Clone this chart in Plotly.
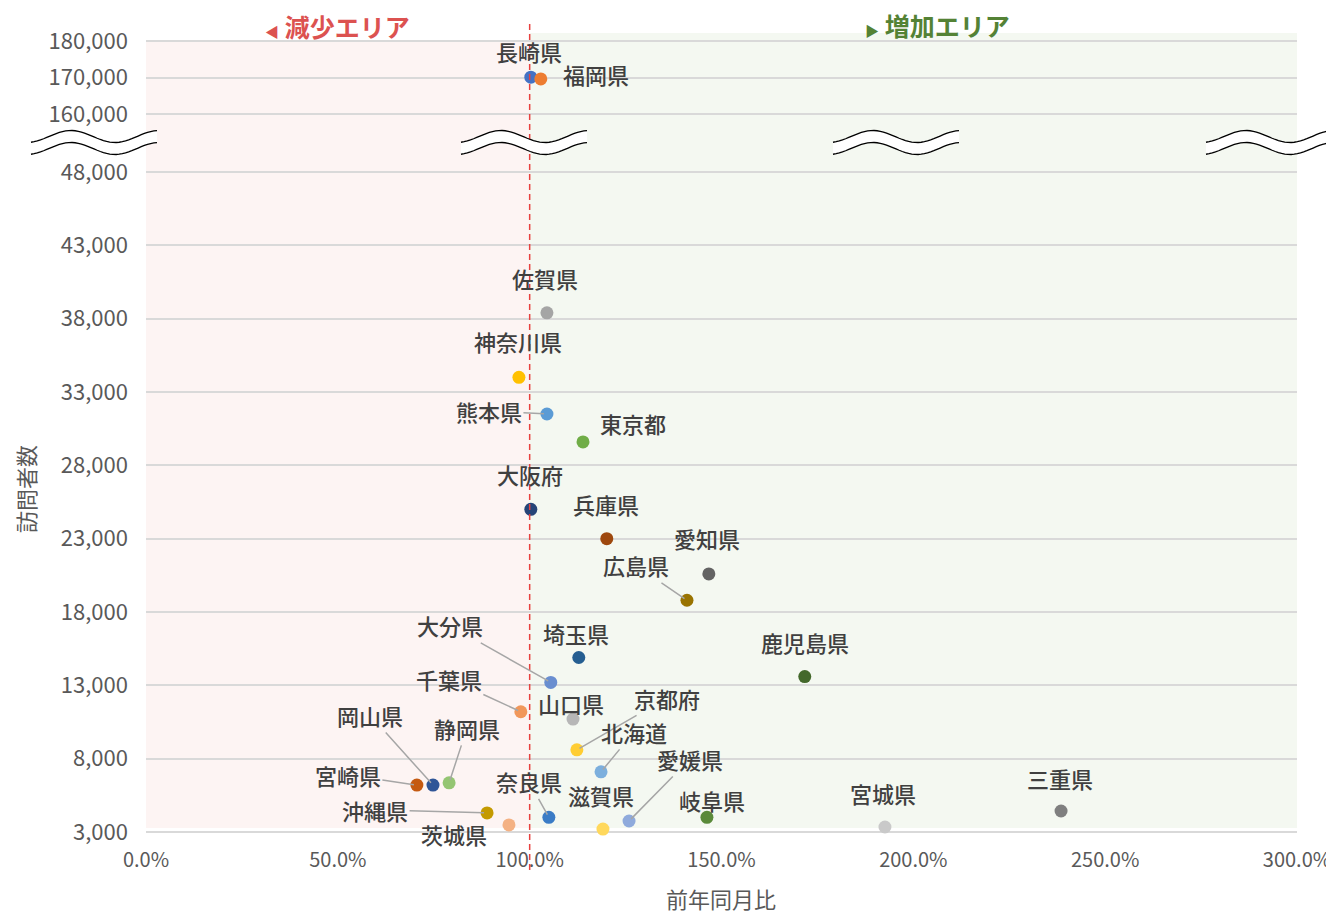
import math
import plotly.graph_objects as go

prefs = ['長崎県', '福岡県', '佐賀県', '神奈川県', '熊本県', '東京都', '大阪府', '兵庫県', '愛知県', '広島県',
         '埼玉県', '鹿児島県', '大分県', '千葉県', '山口県', '京都府', '北海道', '愛媛県', '滋賀県', '岐阜県',
         '奈良県', '茨城県', '沖縄県', '宮崎県', '岡山県', '静岡県', '宮城県', '三重県']
yoy_ratio = [1.003, 1.029, 1.045, 0.972, 1.045, 1.139, 1.003, 1.201, 1.467, 1.410,
             1.128, 1.717, 1.055, 0.977, 1.113, 1.123, 1.186, 1.259, 1.191, 1.462,
             1.050, 0.946, 0.889, 0.706, 0.748, 0.790, 1.926, 2.385]
visitors = [170100, 169600, 38400, 34000, 31500, 29600, 25000, 23000, 20600, 18800,
            14900, 13600, 13200, 11200, 10700, 8600, 7100, 3750, 3200, 4000,
            4000, 3480, 4300, 6200, 6200, 6350, 3340, 4430]
colors = ['#4472C4', '#ED7D31', '#A5A5A5', '#FFC000', '#5B9BD5', '#70AD47', '#264478', '#9E480E', '#636363', '#997300',
          '#255E91', '#43682B', '#698ED0', '#F1975A', '#B7B7B7', '#FFCD33', '#7CAFDD', '#8FAADC', '#FFD85C', '#5A8A3A',
          '#3A7CC6', '#F4B183', '#C49A00', '#C55A11', '#2F5597', '#94C572', '#C9C9C9', '#7F7F7F']

x_ticks = [0, 0.5, 1.0, 1.5, 2.0, 2.5, 3.0]
y_ticks_low = [3000, 8000, 13000, 18000, 23000, 28000, 33000, 38000, 43000, 48000]
y_ticks_high = [160000, 170000, 180000]

# label offsets in px (dx, dy downwards, leader line)
label_pos = {
    '長崎県': (-2, -26, False), '福岡県': (55, -5, False), '佐賀県': (-2, -35, False),
    '神奈川県': (-1, -36, False), '熊本県': (-58, -3, True), '東京都': (50, -19, False),
    '大阪府': (-1, -35, False), '兵庫県': (-1, -35, False), '愛知県': (-2, -36, False),
    '広島県': (-51, -35, True), '埼玉県': (-3, -24, False), '鹿児島県': (0, -35, False),
    '大分県': (-101, -57, True), '千葉県': (-72, -33, True), '山口県': (-2, -16, False),
    '京都府': (90, -52, True), '北海道': (33, -40, True), '愛媛県': (61, -62, True),
    '滋賀県': (-2, -34, False), '岐阜県': (5, -17, False), '奈良県': (-20, -36, True),
    '茨城県': (-55, 9, False), '沖縄県': (-112, -3, True), '宮崎県': (-69, -10, True),
    '岡山県': (-63, -70, True), '静岡県': (18, -55, True), '宮城県': (-2, -34, False),
    '三重県': (-1, -33, False),
}

# page body has an 8px margin, so the figure is drawn 8px in from the corner
PAGE_W, PAGE_H, OFF = 1334, 914, 8
L, R, T, B = 146, 1297, 33, 836
FONT = 'Noto Sans CJK JP'
BREAK = 100000
K_LOW = 73.33 / 5000      # px per visitor, lower segment (3,000 sits at y=832)
K_HIGH = 36.5 / 10000     # px per visitor, upper segment (180,000 sits at y=41)


def px_x(px):
    return (px - L) / (R - L)


def px_y(py):
    return (B - py) / (B - T)


def wave(x_left, y_mid, width=126, n=40):
    pts = []
    for i in range(n + 1):
        t = width * i / n
        y = y_mid - 6 * math.cos(2 * math.pi * (t - 40) / 88)
        pts.append((px_x(x_left + t), px_y(y)))
    return pts


def to_path(pts, close=False):
    s = 'M ' + ' L '.join(f'{x:.5f},{y:.5f}' for x, y in pts)
    return s + (' Z' if close else '')


fig = go.Figure()

low = [i for i, v in enumerate(visitors) if v < BREAK]
high = [i for i, v in enumerate(visitors) if v >= BREAK]
for idx, yref in ((low, 'y'), (high, 'y2')):
    fig.add_trace(go.Scatter(
        x=[yoy_ratio[i] for i in idx],
        y=[visitors[i] for i in idx],
        yaxis=yref,
        mode='markers',
        marker=dict(size=13, color=[colors[i] for i in idx], line=dict(width=0)),
        text=[prefs[i] for i in idx],
        hovertemplate='%{text}<br>%{x:.1%} - %{y:,}<extra></extra>',
        showlegend=False,
    ))

label_font = dict(family=FONT, size=22, color='#404040', weight=500)
annotations = []
for name, xv, yv in zip(prefs, yoy_ratio, visitors):
    dx, dy, leader = label_pos[name]
    a = dict(x=xv, y=yv, xref='x', yref='y2' if yv >= BREAK else 'y', text=name, font=label_font)
    if leader:
        a.update(showarrow=True, ax=dx, ay=dy, arrowhead=0, arrowwidth=1.5,
                 arrowcolor='#A6A6A6', standoff=3)
    else:
        a.update(showarrow=False, xshift=dx, yshift=-dy)
    annotations.append(a)

# area headings
annotations.append(dict(
    x=px_x(337), y=px_y(26), xref='paper', yref='paper', xanchor='center', yanchor='middle', showarrow=False,
    text='<span style="font-size:14px">◀</span> 減少エリア',
    font=dict(family=FONT, size=25, color='#DC5250', weight='bold')))
annotations.append(dict(
    x=px_x(937), y=px_y(25), xref='paper', yref='paper', xanchor='center', yanchor='middle', showarrow=False,
    text='<span style="font-size:14px">▶</span> 増加エリア',
    font=dict(family=FONT, size=25, color='#548235', weight='bold')))

# axis titles
title_font = dict(family=FONT, size=22, color='#595959')
annotations.append(dict(
    x=px_x(25), y=px_y(489), xref='paper', yref='paper', xanchor='center', yanchor='middle', showarrow=False,
    text='訪問者数', textangle=-90, font=title_font))
annotations.append(dict(
    x=px_x(721), y=px_y(898), xref='paper', yref='paper', xanchor='center', yanchor='middle', showarrow=False,
    text='前年同月比', font=title_font))

shapes = [
    dict(type='rect', xref='x', yref='paper', x0=0, x1=1.0, y0=px_y(828), y1=px_y(40),
         fillcolor='#FDF4F3', line=dict(width=0), layer='below'),
    dict(type='rect', xref='x', yref='paper', x0=1.0, x1=3.0, y0=px_y(828), y1=px_y(33),
         fillcolor='#F4F8F1', line=dict(width=0), layer='below'),
    dict(type='line', xref='x', yref='paper', x0=1.0, x1=1.0, y0=px_y(870), y1=px_y(20),
         line=dict(color='#E8403F', width=1.5, dash='6px,4px'), layer='above'),
]
for xl in (31, 461, 833, 1206):
    top = wave(xl, 136.5)
    bottom = wave(xl, 148.5)
    shapes.append(dict(type='path', xref='paper', yref='paper',
                       path=to_path(top + bottom[::-1], close=True),
                       fillcolor='white', line=dict(width=0), layer='above'))
    for curve in (top, bottom):
        shapes.append(dict(type='path', xref='paper', yref='paper', path=to_path(curve),
                           line=dict(color='black', width=1.3), layer='above'))

# lower segment: 3,000 at y=832, plot bottom at y=B
low_bottom = 3000 - (B - 832) / K_LOW
low_top = 50000
low_dom = ((low_top - low_bottom) * K_LOW) / (B - T)
# upper segment: 180,000 at y=41, top edge at y=T
high_top = 180000 + (41 - T) / K_HIGH
high_bottom = 156000
high_dom = 1 - ((high_top - high_bottom) * K_HIGH) / (B - T)

x_tick_font = dict(family=FONT, size=20, color='#595959')
y_tick_font = dict(family=FONT, size=22, color='#595959')
fig.update_layout(
    width=PAGE_W - OFF, height=PAGE_H - OFF,
    margin=dict(l=L - OFF, r=PAGE_W - R, t=T - OFF, b=PAGE_H - B, autoexpand=False),
    paper_bgcolor='white',
    plot_bgcolor='rgba(0,0,0,0)',
    font=dict(family=FONT, color='#595959'),
    xaxis=dict(range=[0, 3.0], tickvals=x_ticks, tickformat='.1%', showgrid=False, zeroline=False,
               showline=False, tickfont=x_tick_font, ticklabelstandoff=10, fixedrange=True,
               automargin=False),
    yaxis=dict(domain=[0, low_dom], range=[low_bottom, low_top], tickvals=y_ticks_low, tickformat=',',
               gridcolor='#D9D9D9', gridwidth=2, zeroline=False, showline=False, tickfont=y_tick_font,
               ticklabelstandoff=17, fixedrange=True, automargin=False),
    yaxis2=dict(domain=[high_dom, 1], range=[high_bottom, high_top], tickvals=y_ticks_high, tickformat=',',
                gridcolor='#D9D9D9', gridwidth=2, zeroline=False, showline=False, tickfont=y_tick_font,
                ticklabelstandoff=17, anchor='x', fixedrange=True, automargin=False),
    shapes=shapes,
    annotations=annotations,
)

fig.write_html('out.html')
